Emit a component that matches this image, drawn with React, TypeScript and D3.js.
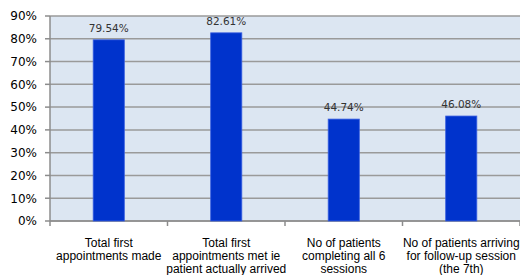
import React, { useRef, useEffect } from 'react';
import * as d3 from 'd3';

const categories = [
  ['Total first', 'appointments made'],
  ['Total first', 'appointments met ie', 'patient actually arrived'],
  ['No of patients', 'completing all 6', 'sessions'],
  ['No of patients arriving', 'for follow-up session', '(the 7th)'],
];
const values = [79.54, 82.61, 44.74, 46.08];
const yTicks = [0, 10, 20, 30, 40, 50, 60, 70, 80, 90];

function App() {
  const ref = useRef<SVGSVGElement>(null);

  const margin = { top: 16, right: 0, bottom: 54, left: 50 };
  const W = 520;
  const H = 275;
  const width = W - margin.left - margin.right;
  const height = H - margin.top - margin.bottom;

  useEffect(() => {
    if (!ref.current) return;
    const svg = d3.select(ref.current);
    svg.selectAll('*').remove();
    const g = svg.append('g').attr('transform', `translate(${margin.left},${margin.top})`);

    const x = d3
      .scaleBand<number>()
      .domain(values.map((_, i) => i))
      .range([0, width]);
    const y = d3.scaleLinear().domain([0, 90]).range([height, 0]);

    g.append('rect')
      .attr('width', width)
      .attr('height', height)
      .attr('fill', '#dce6f2');

    g.selectAll('line.grid')
      .data(yTicks)
      .enter()
      .append('line')
      .attr('x1', 0)
      .attr('x2', width)
      .attr('y1', (d) => y(d))
      .attr('y2', (d) => y(d))
      .attr('stroke', '#9a9a9a')
      .attr('stroke-width', 1.5);

    // y axis
    g.append('line')
      .attr('x1', 0)
      .attr('x2', 0)
      .attr('y1', 0)
      .attr('y2', height)
      .attr('stroke', '#8c8c8c')
      .attr('stroke-width', 1.5);
    g.selectAll('line.ytick')
      .data(yTicks)
      .enter()
      .append('line')
      .attr('x1', -5)
      .attr('x2', 0)
      .attr('y1', (d) => y(d))
      .attr('y2', (d) => y(d))
      .attr('stroke', '#8c8c8c')
      .attr('stroke-width', 1.5);
    g.selectAll('text.ylab')
      .data(yTicks)
      .enter()
      .append('text')
      .attr('x', -13)
      .attr('y', (d) => y(d))
      .attr('dy', '0.36em')
      .attr('text-anchor', 'end')
      .attr('font-family', 'DejaVu Sans, sans-serif')
      .attr('font-size', 12)
      .attr('fill', '#000')
      .text((d) => `${d}%`);

    // x axis ticks
    g.append('line')
      .attr('x1', 0)
      .attr('x2', width)
      .attr('y1', height)
      .attr('y2', height)
      .attr('stroke', '#8c8c8c')
      .attr('stroke-width', 1.5);
    g.selectAll('line.xtick')
      .data(d3.range(values.length + 1))
      .enter()
      .append('line')
      .attr('x1', (d) => d * x.step())
      .attr('x2', (d) => d * x.step())
      .attr('y1', height)
      .attr('y2', height + 5)
      .attr('stroke', '#8c8c8c')
      .attr('stroke-width', 1.5);

    const bw = x.bandwidth() * 0.265;
    g.selectAll('rect.bar')
      .data(values)
      .enter()
      .append('rect')
      .attr('x', (_, i) => x(i)! + x.bandwidth() / 2 - bw / 2)
      .attr('y', (d) => y(d))
      .attr('width', bw)
      .attr('height', (d) => height - y(d))
      .attr('fill', '#0033cc')
      .attr('stroke', '#3a5fe0')
      .attr('stroke-width', 0.8);

    g.selectAll('text.val')
      .data(values)
      .enter()
      .append('text')
      .attr('x', (_, i) => x(i)! + x.bandwidth() / 2)
      .attr('y', (d) => y(d) - 8)
      .attr('text-anchor', 'middle')
      .attr('font-family', 'DejaVu Sans, sans-serif')
      .attr('font-size', 10.5)
      .attr('fill', '#333')
      .text((d) => `${d.toFixed(2)}%`);

    const labels = g
      .selectAll('text.cat')
      .data(categories)
      .enter()
      .append('text')
      .attr('x', (_, i) => x(i)! + x.bandwidth() / 2)
      .attr('y', height + 26)
      .attr('text-anchor', 'middle')
      .attr('font-family', 'Liberation Sans, Arial, sans-serif')
      .attr('font-size', 12)
      .attr('fill', '#000');
    labels
      .selectAll('tspan')
      .data((d) => d)
      .enter()
      .append('tspan')
      .attr('x', function () {
        return (this as any).parentNode.getAttribute('x');
      })
      .attr('dy', (_, j) => (j === 0 ? 0 : 13))
      .text((d) => d);
  }, []);

  return (
    <svg
      ref={ref}
      width={W}
      height={H}
      style={{ position: 'absolute', left: 0, top: 0 }}
    />
  );
}

export default App;
